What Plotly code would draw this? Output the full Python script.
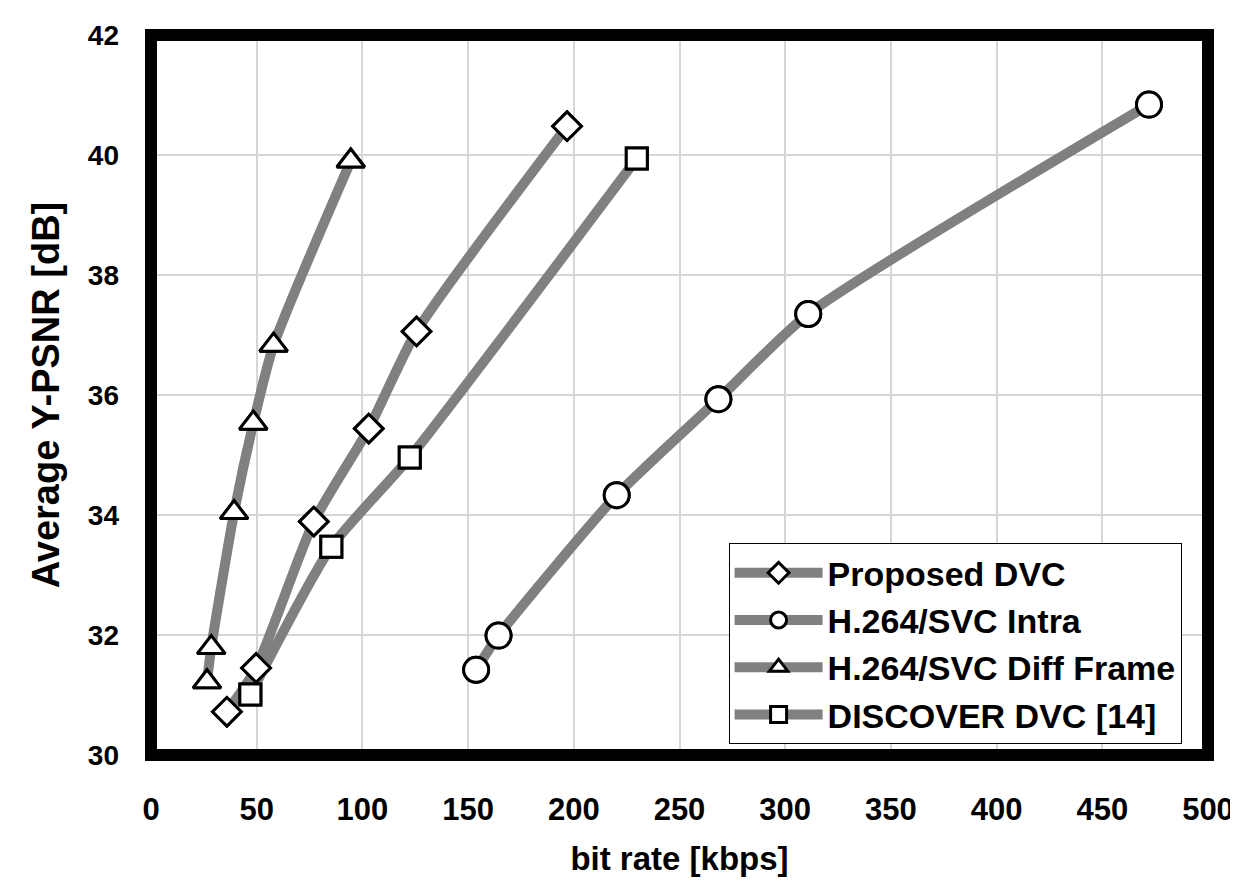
import plotly.graph_objects as go

# ---- data ----
series_names = ["Proposed DVC", "H.264/SVC Intra", "H.264/SVC Diff Frame", "DISCOVER DVC [14]"]

proposed_x = [35.9, 49.7, 77.0, 103.0, 125.6, 196.8]
proposed_y = [30.72, 31.45, 33.89, 35.44, 37.06, 40.48]

intra_x = [153.8, 164.4, 220.3, 268.4, 310.9, 472.1]
intra_y = [31.42, 31.99, 34.33, 35.93, 37.35, 40.84]

diff_x = [26.5, 28.5, 39.3, 48.4, 58.0, 94.5]
diff_y = [31.22, 31.79, 34.04, 35.53, 36.83, 39.90]

discover_x = [47.0, 85.3, 122.4, 229.8]
discover_y = [31.01, 33.47, 34.96, 39.94]

x_ticks = [0, 50, 100, 150, 200, 250, 300, 350, 400, 450, 500]
y_ticks = [30, 32, 34, 36, 38, 40, 42]

symbols = ["diamond", "circle", "triangle-up", "square"]
sizes = [22, 25, 24, 21]

FONT = "Liberation Sans, Arial, sans-serif"

data = [(proposed_x, proposed_y), (intra_x, intra_y), (diff_x, diff_y), (discover_x, discover_y)]

fig = go.Figure()
for (xs, ys), name, sym, sz in zip(data, series_names, symbols, sizes):
    fig.add_trace(go.Scatter(
        x=xs, y=ys, name=name, mode="lines+markers",
        line=dict(color="#808080", width=10, shape="spline", smoothing=0.6),
        marker=dict(symbol=sym, size=sz, color="white", line=dict(color="black", width=3)),
    ))
# markers again on top of all lines
for (xs, ys), name, sym, sz in zip(data, series_names, symbols, sizes):
    fig.add_trace(go.Scatter(
        x=xs, y=ys, name=name, mode="markers", showlegend=False,
        marker=dict(symbol=sym, size=sz, color="white", line=dict(color="black", width=3)),
    ))

# thick frame centred on the plot-area edge
fig.add_shape(type="rect", xref="paper", yref="paper", x0=0, x1=1, y0=0, y1=1,
              line=dict(color="black", width=12), layer="above")

fig.update_layout(
    width=1238, height=882,
    margin=dict(l=143, r=31, t=26, b=135),
    paper_bgcolor="white", plot_bgcolor="white",
    showlegend=True,
    legend=dict(
        x=0.975, y=0.015, xanchor="right", yanchor="bottom",
        bgcolor="white", bordercolor="black", borderwidth=1,
        font=dict(family=FONT, size=34, color="black", weight="bold"),
        itemwidth=88, tracegroupgap=0,
    ),
    xaxis=dict(
        range=[0, 500], tickvals=x_ticks, showgrid=True, gridcolor="#d6d6d6", gridwidth=1.5,
        zeroline=False, showline=False, ticks="", ticklabelstandoff=33,
        ticklabeloverflow="allow",
        tickfont=dict(family=FONT, size=31, color="black", weight="bold"),
        title=dict(text="bit rate [kbps]", standoff=20,
                   font=dict(family=FONT, size=33, color="black", weight="bold")),
    ),
    yaxis=dict(
        range=[30, 42], tickvals=y_ticks, showgrid=True, gridcolor="#d6d6d6", gridwidth=1.5,
        zeroline=False, showline=False, ticks="", ticklabelstandoff=31,
        tickfont=dict(family=FONT, size=28, color="black", weight="bold"),
        title=dict(text="Average Y-PSNR [dB]", standoff=16,
                   font=dict(family=FONT, size=38, color="black", weight="bold")),
    ),
)

fig.write_html("out.html")
